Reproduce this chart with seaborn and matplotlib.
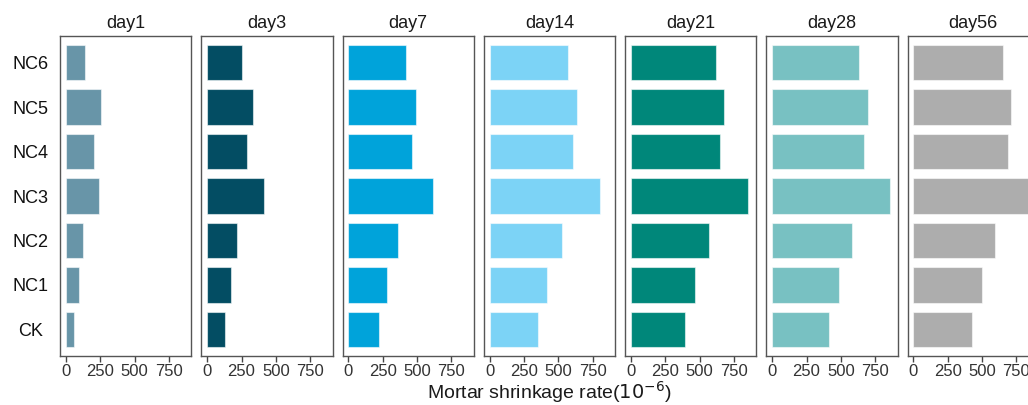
import matplotlib
matplotlib.use("Agg")
import matplotlib.pyplot as plt
import numpy as np
import pandas as pd
import seaborn as sns

# values (10^-6)
groups = ["NC6", "NC5", "NC4", "NC3", "NC2", "NC1", "CK"]
days = ["day1", "day3", "day7", "day14", "day21", "day28", "day56"]
day1 = [141, 257, 204, 243, 126, 97, 56]
day3 = [255, 331, 290, 411, 214, 170, 126]
day7 = [416, 489, 462, 615, 363, 282, 224]
day14 = [569, 635, 606, 805, 525, 420, 352]
day21 = [618, 676, 647, 852, 567, 467, 394]
day28 = [635, 696, 671, 861, 581, 486, 416]
day56 = [652, 713, 689, 870, 591, 496, 423]
day_colors = ["#6895A8", "#034D63", "#00A3DA", "#7CD3F6", "#00877A", "#78C1C2", "#ADADAD"]

values = [day1, day3, day7, day14, day21, day28, day56]
df = pd.DataFrame({
    "day": np.repeat(days, len(groups)),
    "group": groups * len(days),
    "rate": np.concatenate(values),
})

sns.set_style("white")
plt.rcParams["font.family"] = ["Liberation Sans", "DejaVu Sans"]

fig, axes = plt.subplots(1, 7, figsize=(10.28, 4.05), dpi=100, sharey=True)
fig.subplots_adjust(left=0.0584, right=1.0105, top=0.911, bottom=0.121, wspace=0.076)

for i, (ax, d) in enumerate(zip(axes, days)):
    sub = df[df["day"] == d]
    sns.barplot(data=sub, x="rate", y="group", order=groups, color=day_colors[i],
                saturation=1, width=0.8, edgecolor=(1, 1, 1, 0.55), linewidth=0.8, ax=ax)
    ax.set_xlim(-43.5, 913.5)
    ax.set_ylim(6.6, -0.6)
    ax.set_xticks([0, 250, 500, 750])
    ax.set_xlabel("")
    ax.set_ylabel("")
    ax.set_title(d, fontsize=13, pad=6, color="#1a1a1a")
    for s in ax.spines.values():
        s.set_visible(True)
        s.set_color("#555555")
        s.set_linewidth(1.0)
    ax.tick_params(axis="x", length=4, width=1, color="#444444", labelsize=12,
                   labelcolor="#333333", pad=2, bottom=True)
    ax.tick_params(axis="y", length=0, labelsize=13, labelcolor="#111111", pad=21.5)
    for lab in ax.get_yticklabels():
        lab.set_horizontalalignment("center")

fig.text(0.5345, 0.0, "Mortar shrinkage rate($10^{-6}$)", ha="center", va="bottom",
         fontsize=14, color="#1a1a1a")

fig.savefig("out.png", dpi=100)
